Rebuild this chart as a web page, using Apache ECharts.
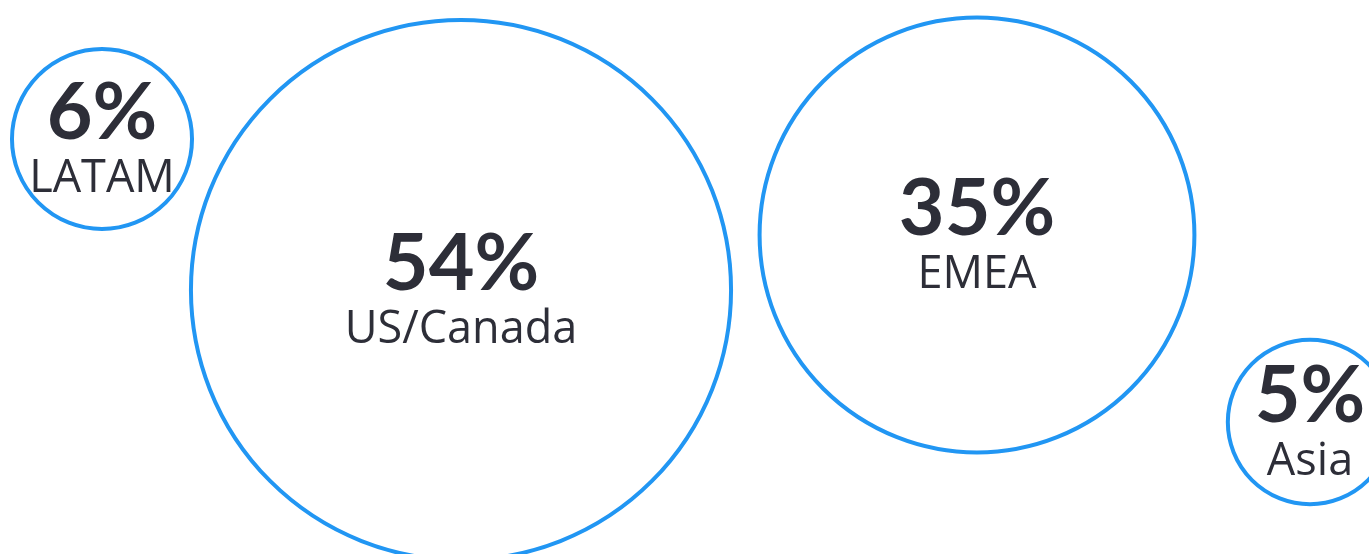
<!DOCTYPE html>
<html>
<head>
<meta charset="utf-8">
<script src="https://cdn.jsdelivr.net/npm/echarts@6/dist/echarts.min.js"></script>
<style>
  html, body { margin: 0; padding: 0; background: #fff; }
  #chart { width: 1369px; height: 554px; }
</style>
</head>
<body>
<div id="chart"></div>
<script>
// regional share, percent
const regions = ['LATAM', 'US/Canada', 'EMEA', 'Asia']
const shares = [6, 54, 35, 5]
// bubble centres on the hidden layout axes
const centreX = [102, 461, 977, 1310]
const centreY = [139, 290, 235, 422]

const chart = echarts.init(document.getElementById('chart'))

let option = {
  animation: false,
  grid: { left: 0, right: 0, top: 0, bottom: 0 },
  xAxis: { type: 'value', min: 0, max: 1369, show: false },
  yAxis: { type: 'value', min: 0, max: 554, inverse: true, show: false },
  series: [{
    type: 'scatter',
    clip: false,
    data: regions.map((name, i) => ({ name: name, value: [centreX[i], centreY[i], shares[i]] })),
    // area proportional to share
    symbolSize: (val) => 73.5 * Math.sqrt(val[2]),
    itemStyle: {
      color: '#fff',
      borderColor: '#2196f3',
      borderWidth: 4,
      opacity: 1
    },
    label: {
      show: true,
      position: 'inside',
      formatter: (p) => '{p|' + p.value[2] + '%}\n{n|' + p.name + '}',
      rich: {
        p: {
          fontFamily: 'Lato',
          fontWeight: 'bold',
          fontSize: 79,
          color: '#2d2e38',
          lineHeight: 80
        },
        n: {
          fontFamily: 'Open Sans',
          fontSize: 45,
          color: '#2d2e38',
          lineHeight: 50
        }
      }
    }
  }]
}

chart.setOption(option)
</script>
</body>
</html>
